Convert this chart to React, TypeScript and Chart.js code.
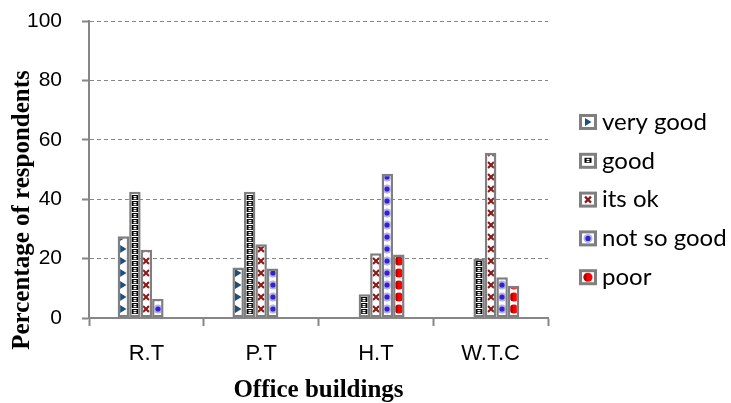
import React, { useEffect, useRef } from "react";
import { Chart, registerables } from "chart.js";

Chart.register(...registerables);

const categories = ["R.T", "P.T", "H.T", "W.T.C"];
const seriesLabels = ["very good", "good", "its ok", "not so good", "poor"];
const veryGood = [27.5, 17, 0, 0];
const good = [42.5, 42.5, 8, 20];
const itsOk = [23, 24.8, 21.8, 55.6];
const notSoGood = [6.5, 16.7, 48.6, 13.7];
const poor = [0, 0, 21.4, 10.9];
const yTicks = [0, 20, 40, 60, 80, 100];
const xTitle = "Office buildings";
const yTitle = "Percentage of respondents";

const seriesValues = [veryGood, good, itsOk, notSoGood, poor];
const glyphKinds = ["tri", "box", "cross", "dot", "ball"];

const GRAY = "#868686";

function drawGlyph(ctx: CanvasRenderingContext2D, kind: string, cx: number, cy: number) {
  ctx.save();
  if (kind === "tri") {
    ctx.fillStyle = "#1F4E79";
    ctx.beginPath();
    ctx.moveTo(cx - 3, cy - 4);
    ctx.lineTo(cx + 3.5, cy);
    ctx.lineTo(cx - 3, cy + 4);
    ctx.closePath();
    ctx.fill();
  } else if (kind === "box") {
    ctx.fillStyle = "#000";
    ctx.fillRect(cx - 3.5, cy - 3, 7, 5);
    ctx.fillStyle = "#fff";
    ctx.fillRect(cx - 1.5, cy - 2, 3, 1.3);
    ctx.fillRect(cx - 1.5, cy + 0, 3, 1.3);
  } else if (kind === "cross") {
    ctx.strokeStyle = "#8B1A1A";
    ctx.lineWidth = 2.2;
    ctx.beginPath();
    ctx.moveTo(cx - 3, cy - 3);
    ctx.lineTo(cx + 3, cy + 3);
    ctx.moveTo(cx + 3, cy - 3);
    ctx.lineTo(cx - 3, cy + 3);
    ctx.stroke();
  } else if (kind === "dot") {
    ctx.fillStyle = "#B3AEF0";
    ctx.beginPath();
    ctx.arc(cx, cy, 4.5, 0, Math.PI * 2);
    ctx.fill();
    ctx.fillStyle = "#3322C8";
    ctx.beginPath();
    ctx.arc(cx, cy, 2.6, 0, Math.PI * 2);
    ctx.fill();
  } else if (kind === "ball") {
    ctx.fillStyle = "#FF0000";
    ctx.beginPath();
    ctx.arc(cx, cy, 4.5, 0, Math.PI * 2);
    ctx.fill();
    ctx.fillStyle = "#B00000";
    ctx.beginPath();
    ctx.arc(cx, cy, 4.5, Math.PI * 0.6, Math.PI * 1.4);
    ctx.fill();
  }
  ctx.restore();
}

const tileSize: Record<string, [number, number]> = {
  tri: [10, 12],
  box: [10, 6],
  cross: [10, 12],
  dot: [10, 12],
  ball: [10, 12],
};

function makeTile(kind: string): HTMLCanvasElement {
  const [w, h] = tileSize[kind];
  const c = document.createElement("canvas");
  c.width = w;
  c.height = h;
  const g = c.getContext("2d")!;
  g.fillStyle = "#fff";
  g.fillRect(0, 0, w, h);
  drawGlyph(g, kind, w / 2, h / 2);
  return c;
}

const patternPlugin = {
  id: "alignedPatterns",
  beforeDatasetsDraw(chart: any) {
    const ctx = chart.ctx as CanvasRenderingContext2D;
    chart.data.datasets.forEach((ds: any, di: number) => {
      const kind = glyphKinds[di];
      const tile = makeTile(kind);
      const [w] = tileSize[kind];
      const meta = chart.getDatasetMeta(di);
      meta.data.forEach((el: any) => {
        const pat = ctx.createPattern(tile, "repeat")!;
        pat.setTransform(new DOMMatrix().translate(Math.round(el.x - w / 2), Math.round(el.base - 3)));
        el.options = { ...el.options, backgroundColor: pat };
      });
    });
  },
};

const decorPlugin = {
  id: "sideLegendAndTitle",
  afterDraw(chart: any) {
    const ctx = chart.ctx as CanvasRenderingContext2D;
    const area = chart.chartArea;
    // y-axis title
    ctx.save();
    ctx.translate(area.left - 66, area.top + 189);
    ctx.rotate(-Math.PI / 2);
    ctx.font = "bold 25px 'Liberation Serif'";
    ctx.fillStyle = "#000";
    ctx.textAlign = "center";
    ctx.textBaseline = "middle";
    ctx.fillText(yTitle, 0, 0);
    ctx.restore();
    // legend
    const x0 = area.right + 31;
    const y0 = area.top + 101;
    const step = 38.8;
    chart.data.datasets.forEach((ds: any, i: number) => {
      const cy = y0 + i * step;
      ctx.save();
      ctx.fillStyle = "#7F7F7F";
      ctx.fillRect(x0, cy - 8, 18, 16);
      ctx.fillStyle = "#fff";
      ctx.fillRect(x0 + 3, cy - 5, 12, 10);
      drawGlyph(ctx, glyphKinds[i], x0 + 9, cy);
      ctx.fillStyle = "#000";
      ctx.font = "24px Lato";
      ctx.textBaseline = "middle";
      ctx.textAlign = "left";
      ctx.fillText(ds.label, x0 + 23, cy);
      ctx.restore();
    });
  },
};

export default function App() {
  const ref = useRef<HTMLCanvasElement | null>(null);
  useEffect(() => {
    if (!ref.current) return;
    const chart = new Chart(ref.current, {
      type: "bar",
      data: {
        labels: categories,
        datasets: seriesLabels.map((label, i) => ({
          label,
          data: seriesValues[i],
          backgroundColor: "#ffffff",
          borderColor: "#7F7F7F",
          borderWidth: 2.5,
          borderSkipped: false,
          categoryPercentage: 0.5,
          barPercentage: 1,
        })),
      },
      options: {
        responsive: false,
        animation: false,
        devicePixelRatio: 1,
        layout: { padding: { left: 0, top: 21, right: 183, bottom: 0 } },
        plugins: {
          legend: { display: false },
          tooltip: { enabled: false },
        },
        scales: {
          x: {
            grid: {
              display: true,
              drawOnChartArea: false,
              drawTicks: true,
              tickLength: 8,
              tickColor: GRAY,
              tickWidth: 2,
              offset: true,
            },
            border: { display: true, color: GRAY, width: 2 },
            ticks: {
              color: "#000",
              font: { family: "Liberation Sans", size: 22 },
              padding: 15,
            },
            title: {
              display: true,
              text: xTitle,
              color: "#000",
              font: { family: "Liberation Serif", size: 25, weight: "bold", lineHeight: 1 },
              padding: { top: 0, bottom: 0 },
            },
            afterFit: (s: any) => {
              s.height = 85;
            },
          },
          y: {
            min: 0,
            max: 100,
            afterBuildTicks: (s: any) => {
              s.ticks = yTicks.map((v) => ({ value: v }));
            },
            grid: {
              color: GRAY,
              lineWidth: 1,
              tickLength: 7,
              tickColor: GRAY,
              tickWidth: 2,
            },
            border: { display: true, color: GRAY, width: 2, dash: [4, 3] },
            ticks: {
              color: "#000",
              font: { family: "Liberation Sans", size: 21 },
              padding: 20,
            },
            afterFit: (s: any) => {
              s.width = 89;
              s.paddingTop = 12;
              s.paddingBottom = 12;
            },
          },
        },
      },
      plugins: [patternPlugin, decorPlugin],
    });
    return () => chart.destroy();
  }, []);
  return (
    <div style={{ position: "fixed", left: 0, top: 0, width: 731, height: 403, background: "#fff" }}>
      <canvas ref={ref} width={731} height={403} />
    </div>
  );
}
